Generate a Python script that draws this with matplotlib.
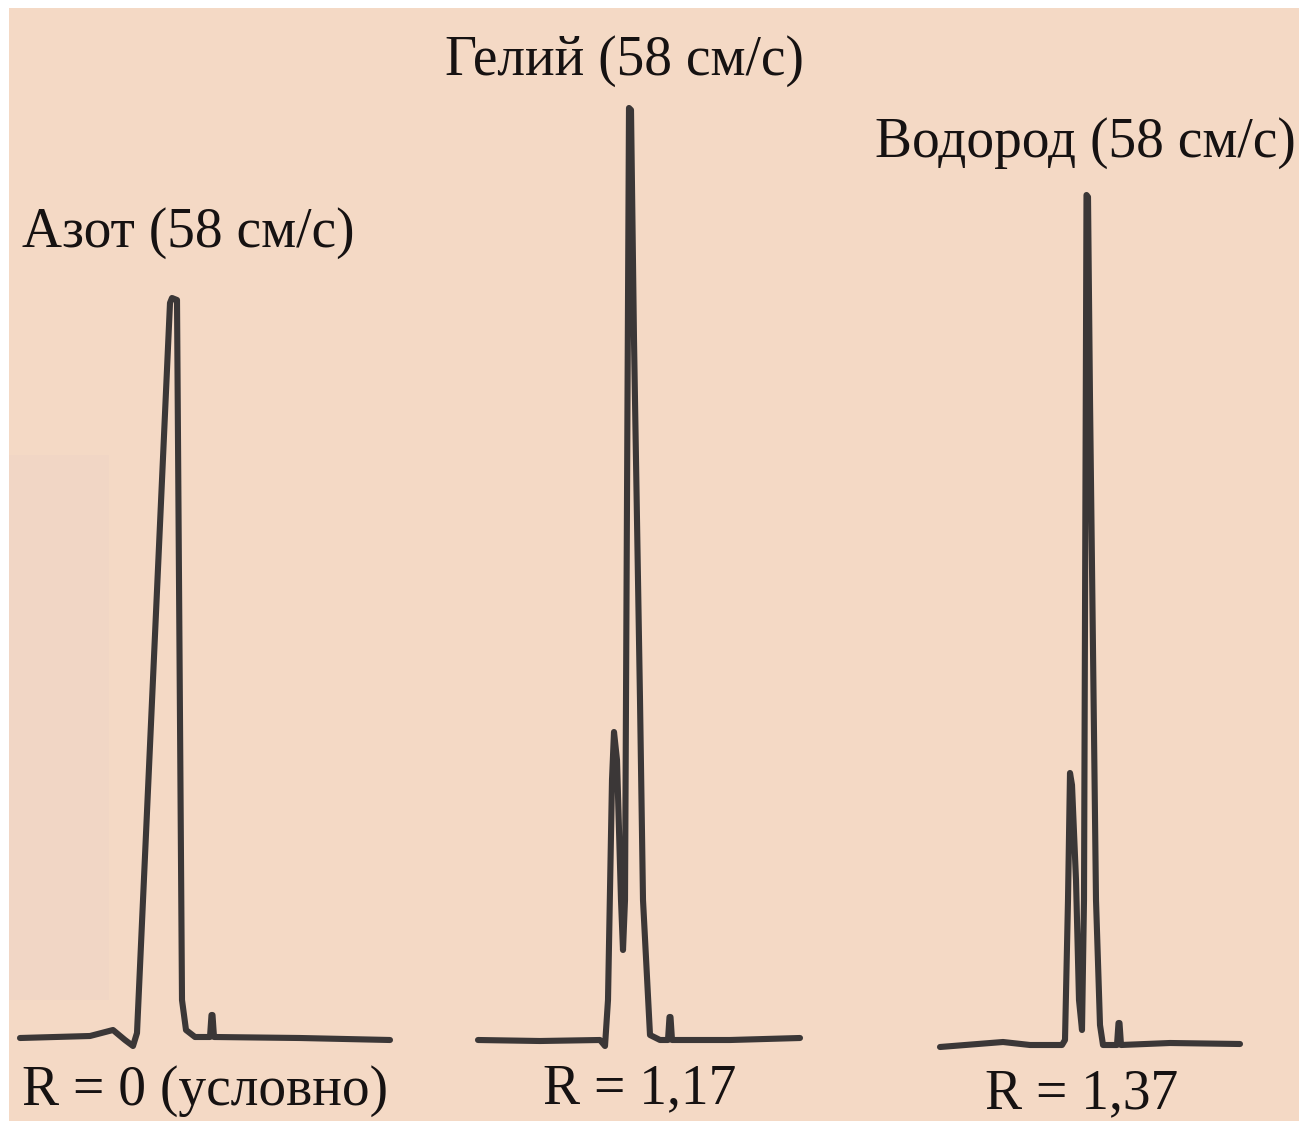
import matplotlib.pyplot as plt
from matplotlib.patches import Rectangle

plt.rcParams['font.family'] = ['Liberation Serif', 'DejaVu Serif']

W, H = 1299, 1121

# Хроматограммы: время (усл. ед.) и сигнал (усл. ед., базовая линия = 0)
t_azot = [0, 7, 9.3, 10.5, 11.3, 11.7, 15.0, 15.2, 15.7, 16.2, 16.6, 17.5, 19.0, 19.15, 19.25, 19.4, 28, 37]
s_azot = [0, 0.2, 0.8, -0.2, -0.8, 0.5, 73.5, 74.0, 73.8, 3.8, 0.8, 0.1, 0.1, 2.3, 2.3, 0.1, 0, -0.2]

t_gel = [0, 6.2, 12.2, 12.7, 13.0, 13.4, 13.6, 13.9, 14.3, 14.5, 14.7, 14.95, 15.1, 15.3, 15.6, 16.2, 16.5, 17.2, 18.2,
         19.0, 19.15, 19.25, 19.4, 25.2, 32.2]
s_gel = [0, -0.1, 0, -0.6, 4.0, 26.0, 30.8, 28.0, 14.0, 9.0, 14.0, 64.0, 93.2, 93.0, 70.0, 34.0, 14.0, 0.5, 0,
         0, 2.3, 2.3, 0, 0, 0.2]

t_vod = [0, 6.3, 9.0, 12.2, 12.5, 12.8, 13.0, 13.2, 13.6, 13.9, 14.2, 14.4, 14.65, 14.8, 15.0, 15.6, 16.0, 16.3,
         17.7, 17.85, 17.95, 18.1, 23, 30]
s_vod = [-0.2, 0.3, 0, 0, 0.5, 14.5, 27.2, 26.0, 16.5, 4.5, 1.5, 14.5, 85.0, 84.8, 64.5, 14.5, 2.0, 0,
         0, 2.2, 2.2, 0, 0.2, 0.1]

gases = ['Азот (58 см/с)', 'Гелий (58 см/с)', 'Водород (58 см/с)']
r_labels = ['R = 0 (условно)', 'R = 1,17', 'R = 1,37']

paper = '#F4D9C5'
ink = '#3B3737'

fig = plt.figure(figsize=(W / 100, H / 100), dpi=100)
fig.patch.set_facecolor('white')
bg = fig.add_axes([0, 0, 1, 1])
bg.set_xlim(0, W)
bg.set_ylim(H, 0)
bg.axis('off')
bg.add_patch(Rectangle((9, 8), W - 9, H - 8, color=paper, lw=0))
bg.add_patch(Rectangle((9, 455), 100, 545, color='#F1D6C5', lw=0))


def panel(x0, y0, t, s):
    # 1 усл. ед. = 10 px по обеим осям
    ax = fig.add_axes([x0 / W, (H - y0 - 20) / H, 400 / W, 1000 / H])
    ax.set_xlim(0, 40)
    ax.set_ylim(-2, 98)
    ax.axis('off')
    ax.plot(t, s, color=ink, lw=4.4, solid_joinstyle='round', solid_capstyle='round', clip_on=False)
    return ax


panel(20, 1038, t_azot, s_azot)
panel(478, 1040, t_gel, s_gel)
panel(940, 1045, t_vod, s_vod)

fs = 40
title_pos = [(22, 247), (445, 75), (875, 157)]
r_pos = [(22, 1105), (543, 1103), (985, 1108)]
for (x, y), txt in zip(title_pos, gases):
    fig.text(x / W, 1 - y / H, txt, fontsize=fs, color='#161212', ha='left', va='baseline')
for (x, y), txt in zip(r_pos, r_labels):
    fig.text(x / W, 1 - y / H, txt, fontsize=fs, color='#161212', ha='left', va='baseline')

fig.savefig('out.png', dpi=100)
